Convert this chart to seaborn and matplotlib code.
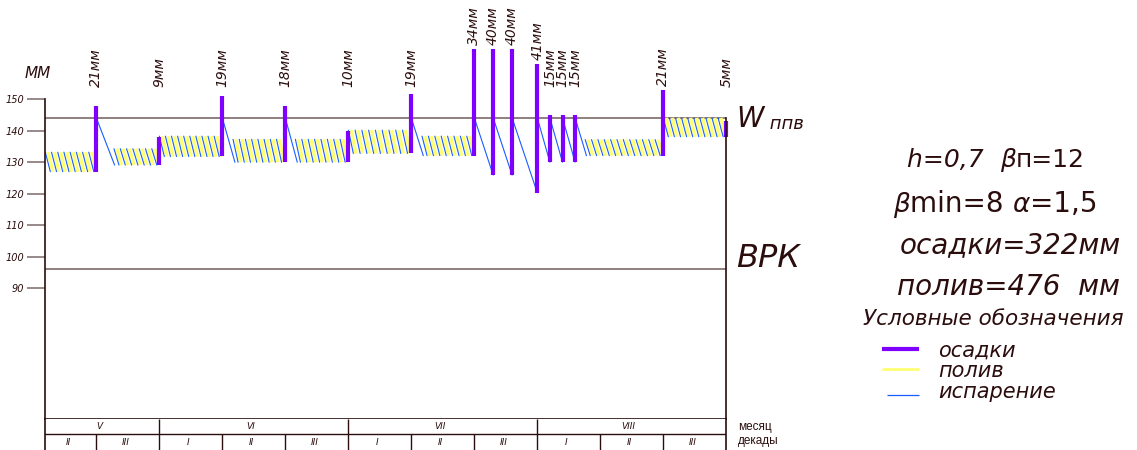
"""
Soil moisture balance chart (May - August): rain, irrigation, evaporation
"""

import matplotlib
matplotlib.use("Agg")
import matplotlib.pyplot as plt
import numpy as np
import pandas as pd
import seaborn as sns

# ---- data ----
months = ["V", "VI", "VII", "VIII"]
month_edges = [0, 30, 60, 90, 120]          # days from 1 May, decade = 10 days
decade_names = ["I", "II", "III"]

w_ppv = 144.1        # field capacity, mm
vrk = 96.0           # critical moisture, mm
y_ticks = [150, 140, 130, 120, 110, 100, 90]

rain_day = [20, 30, 40, 50, 60, 70, 80, 83, 86, 90, 92, 94, 96, 110, 120]
rain_mm = [21, 9, 19, 18, 10, 19, 34, 40, 40, 41, 15, 15, 15, 21, 5]
rain_from = [127.0, 129.1, 132.0, 130.0, 130.0, 132.8, 132.1, 125.9, 125.9,
             120.3, 130.0, 130.0, 130.0, 132.1, 138.1]

# irrigation periods: start, end, upper and lower moisture
irr_start = [11.9, 22.8, 30.0, 41.7, 51.6, 60.0, 71.7, 97.6, 110.0]
irr_end = [19.6, 29.6, 39.5, 49.4, 59.5, 69.4, 79.6, 109.5, 119.5]
irr_top = [133.2, 134.3, 138.3, 137.3, 137.3, 140.2, 138.3, 137.2, 144.1]
irr_low = [127.0, 129.1, 131.8, 130.0, 130.0, 132.8, 132.1, 132.1, 138.1]

# evaporation right after heavy rain (drop from W_ппв)
evap_day = [20, 40, 50, 70, 80, 83, 86, 90, 92, 94, 96]
evap_to_day = [22.9, 42.0, 51.9, 71.9, 83, 86, 90, 92, 94, 96, 97.8]
evap_to = [129.1, 130.0, 130.0, 132.1, 125.9, 125.9, 120.3, 130.0, 130.0, 130.0, 132.1]

W, H = 1137, 450
X_MIN, X_MAX = 11.9, 120
Y_MIN, Y_MAX = 48.5, 181.6

ink = "#2b0d0d"
gray = "#7d6a6a"
purple = "#7f00ff"
blue = "#1a5cff"
yellow = "#ffff73"

sns.set_style("white")
plt.rcParams["font.family"] = ["DejaVu Sans"]

fig = plt.figure(figsize=(W / 100, H / 100), dpi=100)
ax = fig.add_axes([45.3 / W, 31.5 / H, 681 / W, 418.5 / H])
ax.set_xlim(X_MIN, X_MAX)
ax.set_ylim(Y_MIN, Y_MAX)


def segments(pairs):
    """Long-form frame of line segments for sns.lineplot(units=...)"""
    rows = []
    for i, (x0, y0, x1, y1) in enumerate(pairs):
        rows.append((i, x0, y0))
        rows.append((i, x1, y1))
    return pd.DataFrame(rows, columns=["seg", "x", "y"])


# hatch of the irrigation bands: daily drop (blue) and daily watering (yellow)
blue_pairs, yellow_pairs = [], []
for s, e, top, low in zip(irr_start, irr_end, irr_top, irr_low):
    n = max(int(round(e - s)), 1)
    step = (e - s - 0.8) / (n - 1) if n > 1 else 0
    for t in s + step * np.arange(n):
        blue_pairs.append((t, top, t + 0.8, low))
        yellow_pairs.append((t + 0.45, top, t + 1.2, low))

for d, d1, v1 in zip(evap_day, evap_to_day, evap_to):
    blue_pairs.append((d, w_ppv, d1, v1))

rain_pairs = [(d, b, d, b + r) for d, b, r in zip(rain_day, rain_from, rain_mm)]

line_kw = dict(x="x", y="y", units="seg", estimator=None, sort=False,
               legend=False, ax=ax)
sns.lineplot(data=segments(yellow_pairs), color=yellow, lw=2.4,
             solid_capstyle="butt", **line_kw)
sns.lineplot(data=segments(blue_pairs), color=blue, lw=0.8, **line_kw)
sns.lineplot(data=segments(rain_pairs), color=purple, lw=3.0,
             solid_capstyle="butt", clip_on=False, **line_kw)

ax.axhline(w_ppv, color=gray, lw=1.2, zorder=1)
ax.axhline(vrk, color=gray, lw=1.2, zorder=1)

# rain labels above the bars
for d, b, r in zip(rain_day, rain_from, rain_mm):
    ax.text(d, max(b + r + 1.3, 153.9), f"{r}мм", rotation=90, ha="center",
            va="bottom", fontsize=10, style="italic", color=ink)

ax.set_xlabel("")
ax.set_ylabel("")
ax.set_xticks([])
ax.set_yticks(y_ticks)
ax.set_yticklabels([str(v) for v in y_ticks], fontsize=7, style="italic", color=ink)
ax.tick_params(axis="y", length=13, width=1.1, color=gray, pad=2, left=True)
for side in ["left", "right", "bottom"]:
    ax.spines[side].set_color(ink)
    ax.spines[side].set_linewidth(1.2)
ax.spines["top"].set_visible(False)
ax.spines["left"].set_bounds(Y_MIN, 150)
ax.spines["right"].set_bounds(Y_MIN, w_ppv)

# ---- month / decade table under the chart ----
ax_t = fig.add_axes([45.3 / W, 0, 681 / W, 31.5 / H])
ax_t.set_xlim(X_MIN, X_MAX)
ax_t.set_ylim(0, 2)
ax_t.set_xticks([])
ax_t.set_yticks([])
for side in ["top", "bottom"]:
    ax_t.spines[side].set_visible(False)
for side in ["left", "right"]:
    ax_t.spines[side].set_color(ink)
    ax_t.spines[side].set_linewidth(1.2)
ax_t.axhline(1, color=ink, lw=1.0)
tab_kw = dict(ha="center", va="center", fontsize=6.5, style="italic", color=ink)
for m, (a, b) in enumerate(zip(month_edges[:-1], month_edges[1:])):
    if X_MIN < a < X_MAX:
        ax_t.vlines(a, 0, 2, color=ink, lw=1.0)
    ax_t.text((max(a, X_MIN) + b) / 2 - 0.5, 1.5, months[m], **tab_kw)
    for k, name in enumerate(decade_names):
        d0, d1 = a + 10 * k, a + 10 * (k + 1)
        if d1 <= X_MIN:
            continue
        if k > 0 and d0 > X_MIN:
            ax_t.vlines(d0, 0, 1, color=ink, lw=1.0)
        ax_t.text((max(d0, X_MIN) + d1) / 2 - 0.4, 0.5, name, **tab_kw)

# ---- notes on the right (pixel coordinates) ----
ax_n = fig.add_axes([0, 0, 1, 1], zorder=5)
ax_n.set_xlim(0, W)
ax_n.set_ylim(H, 0)
ax_n.axis("off")
ax_n.patch.set_alpha(0)

ital = dict(family="DejaVu Sans", style="italic", color=ink)
upright = dict(family="DejaVu Sans", color=ink)
arial = dict(family="Liberation Sans", color=ink)


def put_parts(x, y, parts):
    """Write text pieces one after another on a common baseline"""
    prev = None
    for txt, kw, size in parts:
        if prev is None:
            prev = ax_n.text(x, y, txt, ha="left", va="baseline", fontsize=size, **kw)
        else:
            prev = ax_n.annotate(txt, xy=(1, 0), xycoords=prev, ha="left",
                                 va="bottom", fontsize=size, **kw)
    return prev


ax_n.text(25, 78, "ММ", ha="left", va="baseline", fontsize=11, **ital)

put_parts(736, 127, [("W", ital, 20), (" ппв", ital, 13)])
ax_n.text(736, 267, "ВРК", ha="left", va="baseline", fontsize=23, **ital)

put_parts(907, 167, [("h=0,7  ", ital, 18), ("β", ital, 18), ("п=12", upright, 18)])
put_parts(893, 212, [("β", ital, 19), ("min=8 ", upright, 20), ("α", ital, 19),
                     ("=1,5", upright, 20)])
ax_n.text(900, 253, "осадки=322мм", ha="left", va="baseline", fontsize=20, **ital)
ax_n.text(897, 295, "полив=476  мм", ha="left", va="baseline", fontsize=20, **ital)
ax_n.text(863, 325, "Условные обозначения", ha="left", va="baseline", fontsize=15.5, **ital)

legend_items = [("осадки", purple, 3.0, 882, 349, 357),
                ("полив", yellow, 2.0, 882, 369, 377),
                ("испарение", blue, 0.9, 887, 395, 398)]
for label, col, lw, x0, yl, yt in legend_items:
    ax_n.plot([x0, 919], [yl, yl], color=col, lw=lw, solid_capstyle="butt")
    ax_n.text(938, yt, label, ha="left", va="baseline", fontsize=15, **ital)

ax_n.text(738, 427, "месяц", ha="left", va="center", fontsize=8.5, **arial)
ax_n.text(738, 441, "декады", ha="left", va="center", fontsize=8.5, **arial)

fig.savefig("out.png", dpi=100)
